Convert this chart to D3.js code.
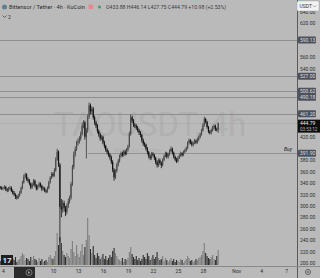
<!DOCTYPE html>
<html>
<head>
<meta charset="utf-8">
<script src="https://cdn.jsdelivr.net/npm/d3@7"></script>
<style>
  html, body { margin: 0; padding: 0; background: #bababa; }
  svg { display: block; font-family: Roboto, 'Liberation Sans', sans-serif; }
</style>
</head>
<body>
<div id="chart"></div>
<script>
'use strict'

const WIDTH = 320
const HEIGHT = 278
const PANE_RIGHT = 297
const PANE_BOTTOM = 266

// 4h candles, first one at Oct 3 16:00 UTC
const firstCandle = Date.UTC(2025, 9, 3, 16)
const closes = [
  332, 330,
  331, 333, 329, 327, 330, 332,
  326, 323, 320, 316, 314, 318,
  323, 331, 341, 351, 355, 347,
  344, 339, 332, 338, 344, 336,
  330, 334, 339, 335, 329, 331,
  327, 325, 331, 341, 349, 356,
  353, 362, 381, 395, 372, 298,
  294, 305, 297, 289, 300, 308,
  314, 338, 368, 390, 399, 410,
  413, 418, 426, 441, 446, 421,
  432, 456, 476, 465, 470, 455,
  446, 440, 431, 425, 418, 421,
  411, 405, 398, 394, 390, 385,
  377, 363, 350, 361, 372, 379,
  387, 392, 389, 395, 391, 398,
  404, 426, 455, 449, 442, 440,
  437, 432, 428, 424, 415, 409,
  407, 400, 394, 387, 384, 391,
  389, 384, 377, 371, 380, 375,
  371, 380, 387, 392, 386, 390,
  396, 400, 393, 386, 381, 378,
  384, 388, 392, 389, 394, 397,
  401, 410, 415, 411, 407, 410,
  414, 411, 416, 420, 425, 432,
  441, 452, 447, 438, 430, 428,
  432, 437, 440, 434, 433.88, 444.79
]
const highs = [
  335, 334,
  334, 336, 335, 331, 333, 335,
  334, 329, 326, 322, 319, 321,
  326, 334, 344, 355, 358, 357,
  350, 347, 341, 341, 347, 346,
  338, 337, 342, 341, 337, 334,
  333, 329, 334, 344, 352, 359,
  359, 366, 385, 400, 397, 375,
  312, 310, 309, 300, 304, 313,
  318, 342, 372, 395, 404, 414,
  418, 422, 430, 446, 450, 449,
  436, 460, 481, 479, 474, 473,
  458, 449, 443, 434, 428, 424,
  423, 414, 407, 401, 397, 392,
  388, 380, 366, 364, 375, 382,
  390, 395, 395, 398, 398, 401,
  407, 430, 460, 458, 452, 445,
  443, 440, 435, 431, 426, 418,
  412, 409, 403, 396, 390, 394,
  394, 391, 386, 380, 383, 383,
  378, 383, 390, 395, 394, 393,
  399, 404, 402, 395, 388, 384,
  387, 391, 395, 394, 397, 400,
  404, 413, 418, 417, 414, 413,
  417, 416, 419, 423, 428, 435,
  445, 456, 454, 449, 440, 433,
  435, 440, 443, 442, 437, 446.14
]
const lows = [
  329, 328,
  327, 329, 326, 324, 325, 328,
  324, 320, 317, 312, 311, 312,
  316, 321, 329, 339, 348, 344,
  341, 336, 329, 330, 335, 333,
  327, 328, 332, 332, 326, 327,
  324, 322, 323, 329, 339, 347,
  350, 351, 360, 379, 368, 236,
  280, 288, 290, 282, 285, 296,
  304, 311, 335, 364, 386, 396,
  405, 409, 414, 423, 436, 416,
  383, 428, 452, 460, 461, 451,
  442, 436, 427, 421, 414, 415,
  408, 401, 395, 390, 386, 381,
  373, 359, 344, 347, 358, 369,
  376, 384, 386, 386, 388, 389,
  395, 402, 423, 445, 438, 436,
  433, 429, 424, 420, 411, 405,
  403, 397, 390, 383, 380, 381,
  386, 380, 373, 367, 368, 372,
  366, 369, 378, 385, 383, 383,
  388, 394, 390, 383, 378, 375,
  376, 382, 386, 386, 387, 392,
  395, 399, 407, 408, 404, 404,
  408, 408, 409, 413, 418, 423,
  430, 439, 444, 435, 427, 425,
  425, 430, 434, 431, 430, 427.75
]
const firstOpen = 333
const volumes = [
  4, 3,
  3, 5, 2, 4, 3, 6,
  4, 7, 5, 8, 3, 5,
  6, 9, 12, 10, 5, 7,
  6, 4, 8, 5, 9, 6,
  5, 3, 7, 4, 6, 3,
  4, 5, 3, 8, 10, 7,
  6, 9, 14, 32, 20, 28,
  22, 14, 10, 8, 12, 9,
  7, 16, 24, 13, 9, 20,
  11, 8, 14, 21, 10, 18,
  25, 47, 30, 16, 12, 19,
  10, 7, 12, 9, 6, 8,
  11, 6, 9, 5, 7, 10,
  8, 14, 17, 12, 9, 6,
  5, 4, 7, 3, 6, 5,
  7, 13, 18, 11, 8, 6,
  9, 5, 7, 4, 6, 10,
  8, 6, 12, 9, 5, 7,
  10, 6, 8, 13, 7, 5,
  6, 9, 4, 7, 5, 3,
  5, 7, 4, 6, 3, 5,
  4, 3, 6, 5, 2, 4,
  6, 9, 7, 4, 5, 3,
  4, 6, 5, 7, 8, 10,
  14, 22, 12, 9, 7, 6,
  8, 10, 6, 5, 9, 15
]

const priceTicks = d3.range(200, 641, 20)
const timeTicks = [
  [2025, 9, 4], [2025, 9, 7], [2025, 9, 10], [2025, 9, 13], [2025, 9, 16],
  [2025, 9, 19], [2025, 9, 22], [2025, 9, 25], [2025, 9, 28], [2025, 10, 1],
  [2025, 10, 4], [2025, 10, 7]
]
const levelPrices = [590.13, 527.0, 500.62, 490.18, 461.2]
const buyPrice = 391.9
const lastPrice = 444.79
const countdown = '03:53:12'
const headerOHLC = 'O433.88 H446.14 L427.75 C444.79 +10.98 (+2.53%)'

const candles = closes.map((c, i) => ({
  t: new Date(firstCandle + i * 4 * 3600 * 1000),
  o: i === 0 ? firstOpen : closes[i - 1],
  h: highs[i],
  l: lows[i],
  c: c,
  v: volumes[i]
}))

const svg = d3.select('#chart').append('svg')
  .attr('width', WIDTH).attr('height', HEIGHT)

svg.append('rect').attr('width', WIDTH).attr('height', HEIGHT).attr('fill', '#bababa')

const x = d3.scaleUtc()
  .domain([new Date(Date.UTC(2025, 9, 4)), new Date(Date.UTC(2025, 10, 7))])
  .range([3, 286.2])
const y = d3.scaleLinear().domain([200, 640]).range([263, 11.6])
const yVol = d3.scaleLinear().domain([0, 50]).range([265, 215])

// watermark
svg.append('text')
  .attr('x', 150).attr('y', 136)
  .attr('text-anchor', 'middle')
  .attr('font-size', 33)
  .attr('fill', '#b0b0b0')
  .text('TAOUSDT, 4h')
svg.append('text')
  .attr('x', 138).attr('y', 152)
  .attr('text-anchor', 'middle')
  .attr('font-size', 6)
  .attr('fill', '#b0b0b0')
  .text('Bittensor / Tether')

// horizontal levels
const levels = svg.append('g')
levels.selectAll('line').data(levelPrices).enter().append('line')
  .attr('x1', 0).attr('x2', PANE_RIGHT)
  .attr('y1', (d) => Math.round(y(d)) + 0.5)
  .attr('y2', (d) => Math.round(y(d)) + 0.5)
  .attr('stroke', '#8e8e8e').attr('stroke-width', 1)
levels.append('line')
  .attr('x1', 88).attr('x2', PANE_RIGHT)
  .attr('y1', Math.round(y(buyPrice)) + 0.5).attr('y2', Math.round(y(buyPrice)) + 0.5)
  .attr('stroke', '#939393')
levels.append('line')
  .attr('x1', 0).attr('x2', PANE_RIGHT)
  .attr('y1', Math.round(y(lastPrice)) + 0.5).attr('y2', Math.round(y(lastPrice)) + 0.5)
  .attr('stroke', '#a4a4a4').attr('stroke-dasharray', '1,1')
svg.append('text')
  .attr('x', 292).attr('y', Math.round(y(buyPrice)) - 2)
  .attr('text-anchor', 'end')
  .attr('font-size', 5).attr('font-style', 'italic')
  .attr('fill', '#222')
  .text('Buy')

// volume
const bw = 1.1
svg.append('g').selectAll('rect').data(candles).enter().append('rect')
  .attr('x', (d) => x(d.t) - bw / 2)
  .attr('width', bw)
  .attr('y', (d) => yVol(d.v))
  .attr('height', (d) => yVol(0) - yVol(d.v))
  .attr('fill', (d) => (d.c >= d.o ? '#7e7e7e' : '#2f2f2f'))

// candles
const cg = svg.append('g')
cg.selectAll('rect.wick').data(candles).enter().append('rect')
  .attr('class', 'wick')
  .attr('x', (d) => x(d.t) - 0.4)
  .attr('width', 0.8)
  .attr('y', (d) => y(d.h))
  .attr('height', (d) => y(d.l) - y(d.h))
  .attr('fill', (d) => (d.c >= d.o ? '#3a3a3a' : '#111'))
cg.selectAll('rect.body').data(candles).enter().append('rect')
  .attr('class', 'body')
  .attr('x', (d) => x(d.t) - 0.6)
  .attr('width', 1.2)
  .attr('y', (d) => y(Math.max(d.o, d.c)))
  .attr('height', (d) => Math.max(0.8, Math.abs(y(d.o) - y(d.c))))
  .attr('fill', (d) => (d.c >= d.o ? '#4a4a4a' : '#111'))

// price axis; labels hidden where a price tag sits, like the original
const tagPrices = levelPrices.concat([buyPrice])
const tagYs = tagPrices.map((p) => y(p)).concat([y(lastPrice), y(lastPrice) + 6])
const visibleTicks = priceTicks.filter((p) => tagYs.every((ty) => Math.abs(y(p) - ty) > 6.5))

svg.append('line')
  .attr('x1', PANE_RIGHT + 0.5).attr('x2', PANE_RIGHT + 0.5)
  .attr('y1', 0).attr('y2', HEIGHT)
  .attr('stroke', '#5a5a5a')
const yAxis = svg.append('g')
  .attr('transform', `translate(${PANE_RIGHT}, 0)`)
  .call(d3.axisRight(y).tickValues(visibleTicks).tickSize(0).tickPadding(3)
    .tickFormat(d3.format('.2f')))
yAxis.select('.domain').remove()
yAxis.selectAll('text')
  .attr('font-size', 5).attr('fill', '#2e2e2e')
  .attr('font-family', 'Roboto, sans-serif')

// level price tags
const tags = svg.append('g')
tagPrices.forEach((p) => {
  const g = tags.append('g').attr('transform', `translate(${PANE_RIGHT + 1}, ${y(p)})`)
  g.append('rect').attr('x', 0).attr('y', -3.5).attr('width', 18).attr('height', 7)
    .attr('rx', 1).attr('fill', '#4e525c')
  g.append('text').attr('x', 2).attr('y', 1.8).attr('font-size', 5)
    .attr('fill', '#dcdcdc').text(d3.format('.2f')(p))
})
const lastTag = tags.append('g').attr('transform', `translate(${PANE_RIGHT + 1}, ${y(lastPrice)})`)
lastTag.append('rect').attr('x', 0).attr('y', -3.5).attr('width', 22).attr('height', 13)
  .attr('fill', '#0d0d0d')
lastTag.append('text').attr('x', 2).attr('y', 1.8).attr('font-size', 5)
  .attr('fill', '#eee').text(d3.format('.2f')(lastPrice))
lastTag.append('text').attr('x', 2).attr('y', 7.6).attr('font-size', 4.5)
  .attr('fill', '#bbb').text(countdown)

// time axis
svg.append('line')
  .attr('x1', 0).attr('x2', WIDTH)
  .attr('y1', PANE_BOTTOM + 0.5).attr('y2', PANE_BOTTOM + 0.5)
  .attr('stroke', '#8a8a8a')
const tickDates = timeTicks.map((d) => new Date(Date.UTC(d[0], d[1], d[2])))
const xAxis = svg.append('g')
  .attr('transform', `translate(0, ${PANE_BOTTOM})`)
  .call(d3.axisBottom(x).tickValues(tickDates).tickSize(0).tickPadding(3)
    .tickFormat((d) => (d.getUTCDate() === 1 ? d3.utcFormat('%b')(d) : d.getUTCDate())))
xAxis.select('.domain').remove()
xAxis.selectAll('text')
  .attr('font-size', 5).attr('fill', '#2e2e2e')
  .attr('font-family', 'Roboto, sans-serif')

// replay button over the axis
svg.append('rect').attr('x', 14).attr('y', 267).attr('width', 21).attr('height', 11)
  .attr('fill', '#2b2b2b')
svg.append('circle').attr('cx', 29).attr('cy', 272.5).attr('r', 3)
  .attr('fill', 'none').attr('stroke', '#9a9a9a').attr('stroke-width', 0.7)
svg.append('path').attr('d', 'M28,271 L30.5,272.5 L28,274 Z').attr('fill', '#9a9a9a')

// settings gear
svg.append('circle').attr('cx', 308).attr('cy', 272).attr('r', 2.6)
  .attr('fill', 'none').attr('stroke', '#444').attr('stroke-width', 0.7)
svg.append('circle').attr('cx', 308).attr('cy', 272).attr('r', 0.9)
  .attr('fill', 'none').attr('stroke', '#444').attr('stroke-width', 0.6)

// logo
svg.append('rect').attr('x', 1).attr('y', 255).attr('width', 12).attr('height', 10)
  .attr('fill', '#1e1e1e')
svg.append('text').attr('x', 7).attr('y', 263).attr('text-anchor', 'middle')
  .attr('font-size', 8).attr('font-weight', 'bold').attr('fill', '#e8e8e8').text('17')

// header
svg.append('circle').attr('cx', 4.5).attr('cy', 7).attr('r', 2.5).attr('fill', '#5e7f95')
svg.append('text').attr('x', 9).attr('y', 9).attr('font-size', 5.6).attr('fill', '#2a2a2a')
  .text('Bittensor / Tether · 4h · KuCoin')
svg.append('rect').attr('x', 88.5).attr('y', 4.5).attr('width', 4.5).attr('height', 4.5)
  .attr('rx', 0.8).attr('fill', '#e8878f')
svg.append('circle').attr('cx', 99.5).attr('cy', 7).attr('r', 1.5).attr('fill', '#3f9a6e')
svg.append('text').attr('x', 106).attr('y', 9).attr('font-size', 5.2).attr('fill', '#3a3a3a')
  .text(headerOHLC)
svg.append('path').attr('d', 'M2.5,15.5 L4.5,17.5 L6.5,15.5').attr('fill', 'none')
  .attr('stroke', '#333').attr('stroke-width', 0.7)
svg.append('text').attr('x', 8).attr('y', 18.5).attr('font-size', 5).attr('fill', '#333').text('2')

// currency box
svg.append('rect').attr('x', 297).attr('y', 1).attr('width', 22).attr('height', 10)
  .attr('rx', 1.5).attr('fill', '#f2f2f2').attr('stroke', '#999').attr('stroke-width', 0.4)
svg.append('text').attr('x', 299.5).attr('y', 8).attr('font-size', 5).attr('fill', '#333').text('USDT')
svg.append('path').attr('d', 'M313,5.5 L314.5,7 L316,5.5').attr('fill', 'none')
  .attr('stroke', '#555').attr('stroke-width', 0.5)
</script>
</body>
</html>
